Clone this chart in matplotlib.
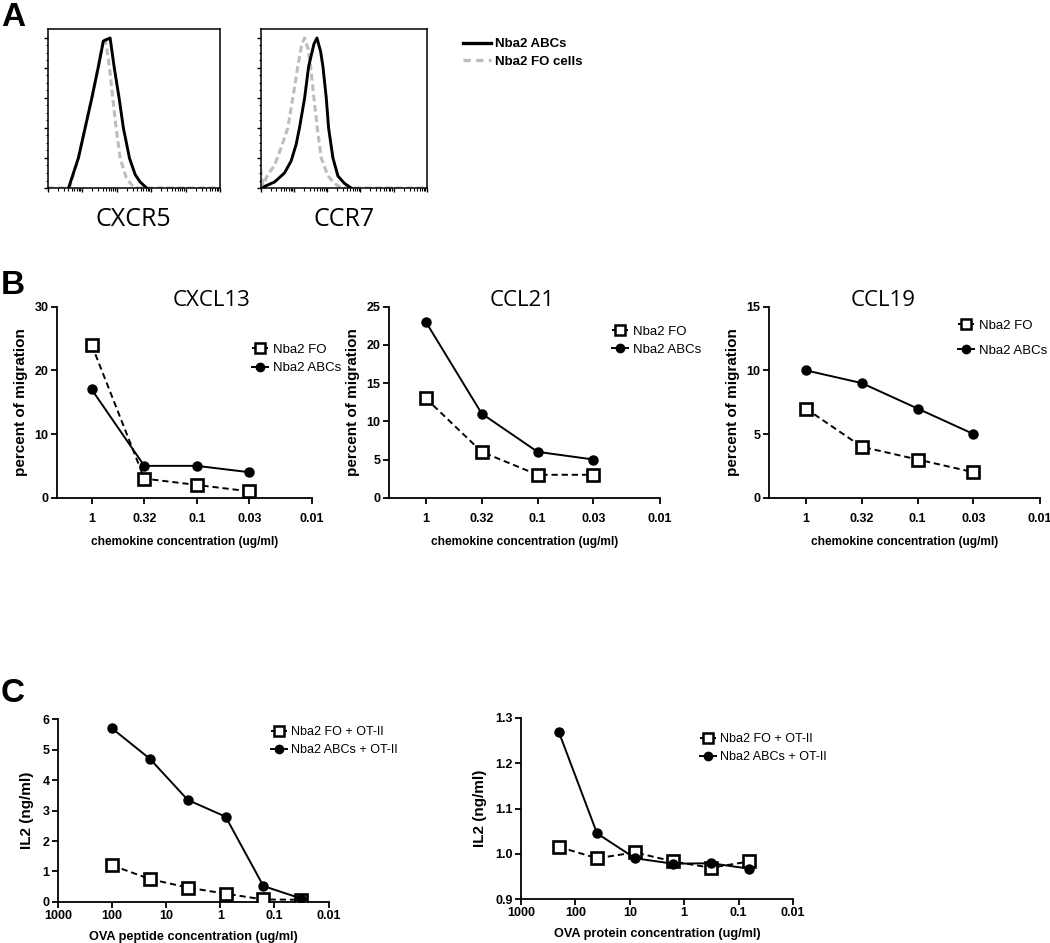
import math

import matplotlib

matplotlib.use("Agg")

import matplotlib.pyplot as plt
from matplotlib.lines import Line2D
from matplotlib.ticker import FixedLocator, NullFormatter, NullLocator


FIG_W = 1050
FIG_H = 943

# no narrow font installed: Liberation Sans at a slightly smaller size instead
NARROW = ["Liberation Sans", "DejaVu Sans"]
ARIAL = ["Liberation Sans", "DejaVu Sans"]
TITLE_FONT = ["Open Sans", "DejaVu Sans"]

# Panel A: flow histograms (x = position across the plot 0-100, y = % of max)
CXCR5_ABC_X = [12.2, 17.9, 21.8, 25.7, 29.5, 32.4, 36.3, 38.6, 41.5, 44.0, 47.5, 50.8, 53.7, 57.5]
CXCR5_ABC_Y = [0, 20, 40, 60, 81, 98, 100, 81, 60, 40, 20, 9, 4, 0]
CXCR5_FO_X = [0, 12.7, 17.9, 21.8, 25.7, 29.5, 32.0, 33.4, 35.9, 37.8, 39.8, 42.1, 45.6, 48.8, 50.8, 100]
CXCR5_FO_Y = [0, 0, 20, 40, 60, 81, 97, 100, 81, 60, 40, 20, 7, 2, 0, 0]

CCR7_ABC_X = [1.4, 2.4, 8.4, 14.4, 18.4, 21.4, 23.4, 26.5, 28.9, 32.1, 33.9, 36.1, 37.5, 39.5, 40.9, 43.5, 46.5, 50.5, 54.5]
CCR7_ABC_Y = [0, 1, 4, 10, 18, 29, 40, 60, 81, 96, 100, 91, 81, 60, 40, 20, 8, 3, 0]
CCR7_FO_X = [0, 1.4, 4.4, 8.4, 12.4, 16.4, 19.4, 22.4, 24.8, 26.5, 28.5, 30.1, 32.1, 34.1, 36.5, 40.5, 44.5, 48.5, 100]
CCR7_FO_Y = [13, 2, 9, 15, 27, 40, 60, 81, 96, 100, 93, 81, 60, 40, 20, 8, 3, 0, 0]

# Panel B: chemokine migration
CHEMOKINE_CONC = [1.0, 0.333, 0.111, 0.037]
CHEMOKINE_TICKS = [1.0, 0.333, 0.111, 0.037, 0.01]
CHEMOKINE_TICK_LABELS = ["1", "0.32", "0.1", "0.03", "0.01"]

CXCL13_FO = [24, 3, 2, 1]
CXCL13_ABC = [17, 5, 5, 4]
CCL21_FO = [13, 6, 3, 3]
CCL21_ABC = [23, 11, 6, 5]
CCL19_FO = [7, 4, 3, 2]
CCL19_ABC = [10, 9, 7, 5]

# Panel C: IL2 production
PEPTIDE_CONC = [100, 20, 4, 0.8, 0.16, 0.032]
PEPTIDE_FO = [1.2, 0.75, 0.47, 0.27, 0.08, 0.07]
PEPTIDE_ABC = [5.7, 4.7, 3.35, 2.8, 0.52, 0.11]

PROTEIN_CONC = [200, 40, 8, 1.6, 0.32, 0.064]
PROTEIN_FO = [1.015, 0.99, 1.003, 0.983, 0.969, 0.983]
PROTEIN_ABC = [1.268, 1.045, 0.99, 0.978, 0.979, 0.967]

OVA_TICKS = [1000, 100, 10, 1, 0.1, 0.01]
OVA_TICK_LABELS = ["1000", "100", "10", "1", "0.1", "0.01"]


def add_axes_px(fig, left, right, top, bottom):
    """Add axes using pixel edges of the reference image."""

    return fig.add_axes(
        [
            left / FIG_W,
            1 - bottom / FIG_H,
            (right - left) / FIG_W,
            (bottom - top) / FIG_H,
        ]
    )


def fig_xy(x, y):
    return x / FIG_W, 1 - y / FIG_H


def style_prism_axes(ax):
    """GraphPad-like axes: left and bottom spines only, bold ticks."""

    for side in ["top", "right"]:
        ax.spines[side].set_visible(False)

    for side in ["left", "bottom"]:
        ax.spines[side].set_linewidth(1.3)

    ax.tick_params(
        direction="out",
        length=4,
        width=1.3,
        pad=2,
        labelsize=9,
    )
    ax.xaxis.set_minor_locator(NullLocator())

    for label in ax.get_xticklabels() + ax.get_yticklabels():
        label.set_fontfamily(NARROW)
        label.set_fontweight("bold")


def plot_pair(ax, x, fo, abc):
    ax.plot(
        x,
        fo,
        color="black",
        linestyle=(0, (3.2, 2)),
        linewidth=1.4,
        marker="s",
        markersize=8,
        markerfacecolor="white",
        markeredgecolor="black",
        markeredgewidth=1.9,
        zorder=3,
    )
    ax.plot(
        x,
        abc,
        color="black",
        linewidth=1.4,
        marker="o",
        markersize=6.5,
        zorder=4,
    )


def add_legend(fig, ax, labels, x, y, spacing, size):
    handles = [
        Line2D(
            [],
            [],
            color="black",
            linestyle=(0, (2, 1.2)),
            linewidth=1.4,
            marker="s",
            markersize=7,
            markerfacecolor="white",
            markeredgewidth=1.8,
        ),
        Line2D(
            [],
            [],
            color="black",
            linewidth=1.4,
            marker="o",
            markersize=6,
        ),
    ]
    ax.legend(
        handles,
        labels,
        loc="center left",
        bbox_to_anchor=fig_xy(x, y),
        bbox_transform=fig.transFigure,
        frameon=False,
        borderpad=0,
        borderaxespad=0,
        handlelength=1.25,
        handletextpad=0.35,
        labelspacing=spacing,
        prop={"family": NARROW, "size": size},
    )


def draw_histogram(ax, abc_x, abc_y, fo_x, fo_y, label):
    ax.plot(
        fo_x,
        fo_y,
        color="#bdbdbd",
        linestyle=(0, (2.2, 1.2)),
        linewidth=2.2,
        zorder=2,
    )
    ax.plot(
        abc_x,
        abc_y,
        color="black",
        linewidth=2.1,
        zorder=3,
    )
    ax.set_xlim(0, 100)
    ax.set_ylim(0, 106)

    for side in ax.spines.values():
        side.set_linewidth(1.1)

    ax.yaxis.set_major_locator(FixedLocator([0, 20, 40, 60, 80, 100]))
    ax.yaxis.set_minor_locator(FixedLocator(list(range(0, 101, 5))))
    ax.xaxis.set_major_locator(FixedLocator([0, 20, 40, 60, 80, 100]))
    minor_x = [20 * d + 20 * math.log10(k) for d in range(5) for k in range(2, 10)]
    ax.xaxis.set_minor_locator(FixedLocator(minor_x))
    ax.xaxis.set_major_formatter(NullFormatter())
    ax.yaxis.set_major_formatter(NullFormatter())
    ax.tick_params(which="major", direction="out", length=3, width=1)
    ax.tick_params(which="minor", direction="out", length=1.8, width=0.8)

    ax.set_xlabel(
        label,
        fontsize=18,
        family=TITLE_FONT,
        labelpad=7,
    )


def chemokine_panel(fig, ax, fo, abc, ymax, title, title_x, legend_x, legend_y, spacing):
    plot_pair(ax, CHEMOKINE_CONC, fo, abc)
    ax.set_xscale("log")
    ax.set_xlim(10 ** 0.315, 0.01)
    ax.set_ylim(0, ymax)
    ax.set_xticks(CHEMOKINE_TICKS)
    ax.set_xticklabels(CHEMOKINE_TICK_LABELS)
    ax.set_yticks(list(range(0, ymax + 1, 10 if ymax == 30 else 5)))
    style_prism_axes(ax)
    ax.tick_params(axis="x", pad=7)

    ax.set_xlabel(
        "chemokine concentration (ug/ml)",
        fontsize=8.6,
        fontweight="bold",
        family=NARROW,
        labelpad=8,
    )
    ax.set_ylabel(
        "percent of migration",
        fontsize=11,
        fontweight="bold",
        family=ARIAL,
        labelpad=5,
    )

    fig.text(
        *fig_xy(title_x, 300),
        title,
        ha="center",
        va="center",
        fontsize=16,
        family=TITLE_FONT,
    )

    add_legend(fig, ax, ["Nba2 FO", "Nba2 ABCs"], legend_x, legend_y, spacing, 9.5)


def ova_panel(fig, ax, conc, fo, abc, ylim, yticks, ytick_labels, xlabel, legend_x, legend_y):
    plot_pair(ax, conc, fo, abc)
    ax.set_xscale("log")
    ax.set_xlim(1000, 0.01)
    ax.set_ylim(*ylim)
    ax.set_xticks(OVA_TICKS)
    ax.set_xticklabels(OVA_TICK_LABELS)
    ax.set_yticks(yticks)
    ax.set_yticklabels(ytick_labels)
    style_prism_axes(ax)

    ax.set_xlabel(
        xlabel,
        fontsize=9.2,
        fontweight="bold",
        family=NARROW,
        labelpad=6,
    )
    ax.set_ylabel(
        "IL2 (ng/ml)",
        fontsize=11,
        fontweight="bold",
        family=ARIAL,
        labelpad=6,
    )

    add_legend(
        fig,
        ax,
        ["Nba2 FO + OT-II", "Nba2 ABCs + OT-II"],
        legend_x,
        legend_y,
        0.5,
        9,
    )


def main():
    fig = plt.figure(figsize=(FIG_W / 100, FIG_H / 100), dpi=100)

    # Panel A
    ax_cxcr5 = add_axes_px(fig, 47.5, 220, 29, 188)
    draw_histogram(ax_cxcr5, CXCR5_ABC_X, CXCR5_ABC_Y, CXCR5_FO_X, CXCR5_FO_Y, "CXCR5")

    ax_ccr7 = add_axes_px(fig, 260.5, 427, 29, 188)
    draw_histogram(ax_ccr7, CCR7_ABC_X, CCR7_ABC_Y, CCR7_FO_X, CCR7_FO_Y, "CCR7")

    hist_handles = [
        Line2D([], [], color="black", linewidth=2.4),
        Line2D([], [], color="#bdbdbd", linewidth=2.4, linestyle=(0, (2.2, 1.6))),
    ]
    fig.legend(
        hist_handles,
        ["Nba2 ABCs", "Nba2 FO cells"],
        loc="center left",
        bbox_to_anchor=fig_xy(463, 53),
        frameon=False,
        borderpad=0,
        borderaxespad=0,
        handlelength=2.1,
        handletextpad=0.3,
        labelspacing=0.4,
        prop={"family": ARIAL, "size": 9.5, "weight": "bold"},
    )

    # Panel B
    ax_cxcl13 = add_axes_px(fig, 57, 312, 306.7, 497.7)
    chemokine_panel(fig, ax_cxcl13, CXCL13_FO, CXCL13_ABC, 30, "CXCL13", 212, 252, 359, 0.45)

    ax_ccl21 = add_axes_px(fig, 389, 660, 306.7, 497.7)
    chemokine_panel(fig, ax_ccl21, CCL21_FO, CCL21_ABC, 25, "CCL21", 522, 612, 340.5, 0.45)

    ax_ccl19 = add_axes_px(fig, 769, 1040, 306.7, 497.7)
    chemokine_panel(fig, ax_ccl19, CCL19_FO, CCL19_ABC, 15, "CCL19", 883, 958, 338, 0.95)

    # Panel C
    ax_peptide = add_axes_px(fig, 58, 328.6, 719.3, 901.9)
    ova_panel(
        fig,
        ax_peptide,
        PEPTIDE_CONC,
        PEPTIDE_FO,
        PEPTIDE_ABC,
        (0, 6),
        [0, 1, 2, 3, 4, 5, 6],
        ["0", "1", "2", "3", "4", "5", "6"],
        "OVA peptide concentration (ug/ml)",
        271,
        741,
    )

    ax_protein = add_axes_px(fig, 521, 793, 718, 899)
    ova_panel(
        fig,
        ax_protein,
        PROTEIN_CONC,
        PROTEIN_FO,
        PROTEIN_ABC,
        (0.9, 1.3),
        [0.9, 1.0, 1.1, 1.2, 1.3],
        ["0.9", "1.0", "1.1", "1.2", "1.3"],
        "OVA protein concentration (ug/ml)",
        700,
        748,
    )

    # Panel letters
    for letter, x, y in [("A", 1, 17), ("B", 1, 286), ("C", 1, 694)]:
        fig.text(
            *fig_xy(x, y),
            letter,
            ha="left",
            va="center",
            fontsize=24,
            fontweight="bold",
            family=ARIAL,
        )

    fig.savefig("out.png", dpi=100)


if __name__ == "__main__":
    main()
